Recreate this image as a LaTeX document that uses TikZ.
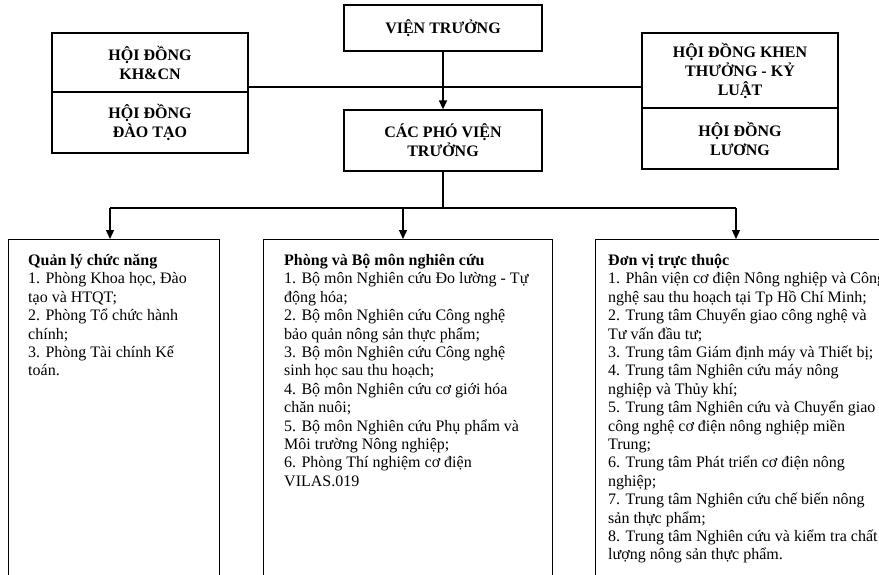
\documentclass[tikz,border=0pt]{standalone}
\usepackage{fontspec}
\setmainfont{Liberation Serif}
\usetikzlibrary{arrows.meta,positioning,calc}
\definecolor{ink}{HTML}{000000}
\tikzset{>={Triangle[width=8pt,length=9pt]},
 box/.style={draw=ink,line width=1.3pt,align=center,inner sep=0pt,font=\bfseries\fontsize{16}{19}\selectfont},
 unit/.style={draw=ink,line width=1.3pt,anchor=north west,inner sep=0pt},
 txt/.style={anchor=north west,align=left,inner sep=0pt,font=\fontsize{16}{18.4}\selectfont},
 arr/.style={->,line width=1.3pt,ink},
 link/.style={line width=1.3pt,ink}}

\begin{document}
\begin{tikzpicture}[x=1pt,y=-1pt]
\clip (0,0) rectangle (879,574);
% leadership
\node[box,minimum width=198pt,minimum height=46pt] (vt) at (443,28) {VIỆN TRƯỞNG};
\node[box,minimum width=198pt,minimum height=61pt] (pvt) at (443,140.5) {CÁC PHÓ VIỆN\\TRƯỞNG};
% councils
\node[box,minimum width=196pt,minimum height=59pt] (hdkh) at (150,62.5) {HỘI ĐỒNG\\KH\&CN};
\node[box,minimum width=196pt,minimum height=61pt] (hddt) at (150,122.5) {HỘI ĐỒNG\\ĐÀO TẠO};
\node[box,minimum width=196pt,minimum height=75pt] (hdkt) at (740,70.5) {HỘI ĐỒNG KHEN\\THƯỞNG - KỶ\\LUẬT};
\node[box,minimum width=196pt,minimum height=61pt] (hdl) at (740,138.5) {HỘI ĐỒNG\\LƯƠNG};
% units
\node[unit,minimum width=211pt,minimum height=360pt] (ql) at (8,239) {};
\node[unit,minimum width=289pt,minimum height=360pt] (pb) at (263,239) {};
\node[unit,minimum width=300pt,minimum height=360pt] (dv) at (595,239) {};
\node[txt] (qltxt) at ($(ql.north west)+(20,15)$) {\textbf{Quản lý chức năng}\\
1. Phòng Khoa học, Đào\\
tạo và HTQT;\\
2. Phòng Tổ chức hành\\
chính;\\
3. Phòng Tài chính Kế\\
toán.};
\node[txt] (pbtxt) at ($(pb.north west)+(21,15)$) {\textbf{Phòng và Bộ môn nghiên cứu}\\
1. Bộ môn Nghiên cứu Đo lường - Tự\\
động hóa;\\
2. Bộ môn Nghiên cứu Công nghệ\\
bảo quản nông sản thực phẩm;\\
3. Bộ môn Nghiên cứu Công nghệ\\
sinh học sau thu hoạch;\\
4. Bộ môn Nghiên cứu cơ giới hóa\\
chăn nuôi;\\
5. Bộ môn Nghiên cứu Phụ phẩm và\\
Môi trường Nông nghiệp;\\
6. Phòng Thí nghiệm cơ điện\\
VILAS.019};
\node[txt] (dvtxt) at ($(dv.north west)+(13,15)$) {\textbf{Đơn vị trực thuộc}\\
1. Phân viện cơ điện Nông nghiệp và Công\\
nghệ sau thu hoạch tại Tp Hồ Chí Minh;\\
2. Trung tâm Chuyển giao công nghệ và\\
Tư vấn đầu tư;\\
3. Trung tâm Giám định máy và Thiết bị;\\
4. Trung tâm Nghiên cứu máy nông\\
nghiệp và Thủy khí;\\
5. Trung tâm Nghiên cứu và Chuyển giao\\
công nghệ cơ điện nông nghiệp miền\\
Trung;\\
6. Trung tâm Phát triển cơ điện nông\\
nghiệp;\\
7. Trung tâm Nghiên cứu chế biến nông\\
sản thực phẩm;\\
8. Trung tâm Nghiên cứu và kiểm tra chất\\
lượng nông sản thực phẩm.};
% connectors
\coordinate (hub) at (443,87);
\coordinate (bus) at (443,208);
\coordinate (b1) at (110,208);
\coordinate (b2) at (403,208);
\coordinate (b3) at (736,208);
\draw[link] (hub -| hdkh.east) -- (hub -| hdkt.west);
\draw[arr] (vt) -- (pvt);
\draw[link] (pvt) -- (bus);
\draw[link] (b1) -- (b3);
\foreach \b/\u in {b1/ql,b2/pb,b3/dv}
  \draw[arr] (\b) -- (\b |- \u.north);
\end{tikzpicture}
\end{document}
